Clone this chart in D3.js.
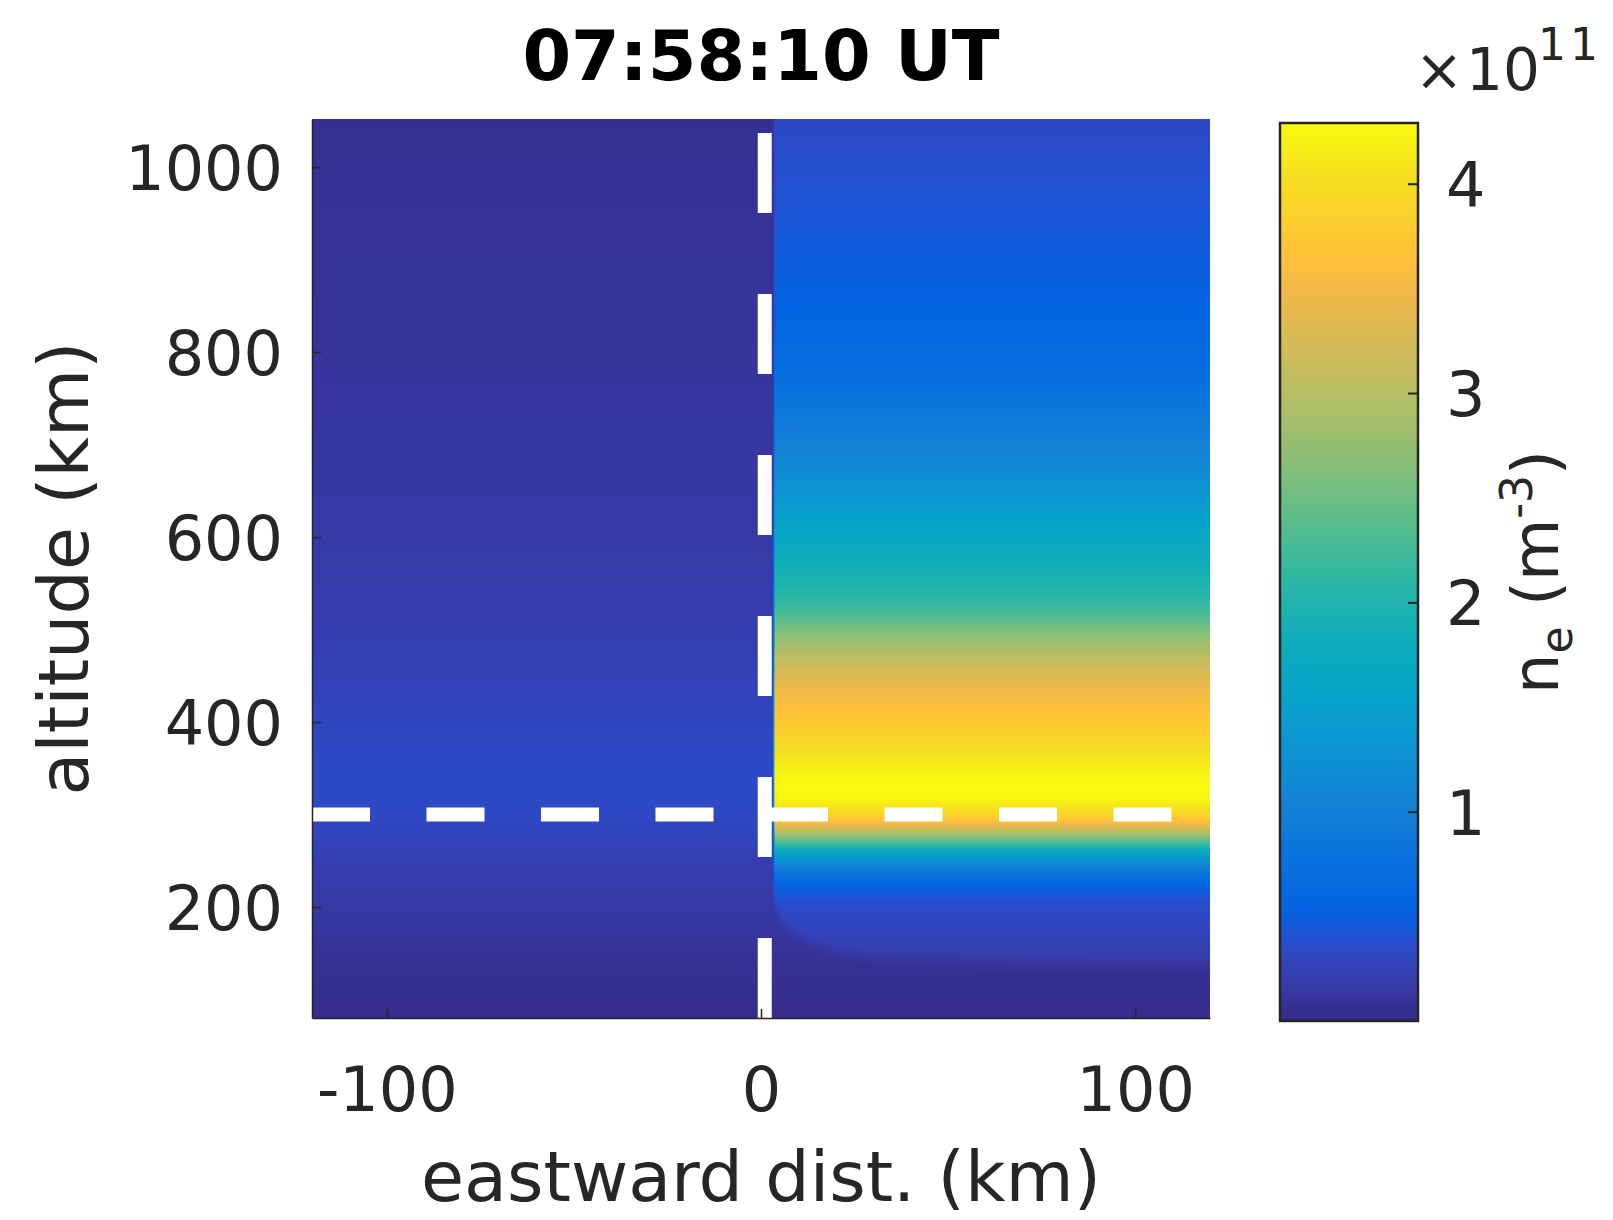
<!DOCTYPE html>
<html>
<head>
<meta charset="utf-8">
<script src="https://cdn.jsdelivr.net/npm/d3@7"></script>
<style>
  body { margin: 0; background: #fff; }
  svg { display: block; font-family: "DejaVu Sans", sans-serif; }
</style>
</head>
<body>
<svg id="chart"></svg>
<script>
// altitude grid of the density profiles (km)
const altitudes   = [80, 100, 120, 135, 150, 170, 190, 205, 220, 235, 250, 262, 275, 290, 300, 315, 330, 345, 365, 385, 410, 430, 450, 470, 490, 510, 530, 550, 575, 600, 640, 680, 720, 770, 820, 870, 920, 970, 1010, 1052];
// n_e west of the boundary (x1e11 m^-3)
const westDensity = [0.03, 0.04, 0.05, 0.07, 0.09, 0.12, 0.14, 0.16, 0.18, 0.20, 0.22, 0.25, 0.28, 0.30, 0.32, 0.33, 0.34, 0.34, 0.33, 0.31, 0.29, 0.27, 0.25, 0.23, 0.22, 0.21, 0.20, 0.19, 0.18, 0.17, 0.15, 0.14, 0.13, 0.12, 0.11, 0.10, 0.09, 0.08, 0.07, 0.06];
// n_e east of the boundary (x1e11 m^-3)
const eastDensity = [0.03, 0.06, 0.10, 0.14, 0.20, 0.27, 0.32, 0.37, 0.50, 0.80, 1.25, 1.80, 2.60, 3.50, 3.90, 4.20, 4.29, 4.22, 4.05, 3.88, 3.68, 3.52, 3.32, 3.05, 2.75, 2.40, 2.12, 1.97, 1.82, 1.66, 1.38, 1.12, 0.93, 0.74, 0.60, 0.52, 0.46, 0.41, 0.37, 0.33];

// eastward position of the density edge (km) and the rounded floor of the
// enhanced region next to it (km east of the edge -> altitude km)
const edgeDist    = 3.5;
const cornerDist  = [0, 2, 5, 10, 16, 24, 35, 120];
const cornerFloor = [200, 186, 173, 161, 152, 145, 139, 135];

// marker lines
const markerDist = 1;     // km
const markerAlt  = 300;   // km

// axis limits and ticks
const distLimits = [-120, 120];
const altLimits  = [80, 1052];
const neLimits   = [0, 4.29];
const distTicks  = [-100, 0, 100];
const altTicks   = [200, 400, 600, 800, 1000];
const neTicks    = [1, 2, 3, 4];

// parula colour map (positions 0..1)
const parulaPos = [0, 1, 2, 3, 4, 5, 6, 7, 8, 11, 15, 19, 23, 27, 31, 35, 39, 43, 47, 51, 53, 55, 59, 63].map(i => i / 63);
const parulaHex = ['#352a87', '#363093', '#3637a0', '#353dad', '#3243ba', '#2c4ac7', '#2053d4', '#0f5cdd', '#0363e1', '#0871de', '#1481d6', '#0c93d2', '#06a4ca', '#0faeb9', '#2eb7a4', '#59bd8c', '#87bf77', '#aebe67', '#d1bb59', '#f1b94a', '#fdbe3d', '#fec832', '#f5de21', '#f9fb0e'];

const width = 1613, height = 1220;
const plot = {left: 312, top: 119, width: 898, height: 899};
const cbar = {left: 1280, top: 123, width: 138, height: 898};
const ink = '#262626';
const fmt = d => String(d);   // plain "-100", "1000"

const svg = d3.select('#chart')
    .attr('width', width)
    .attr('height', height);

const x = d3.scaleLinear().domain(distLimits).range([plot.left, plot.left + plot.width]);
const y = d3.scaleLinear().domain(altLimits).range([plot.top + plot.height, plot.top]);

const color = d3.scaleLinear()
    .domain(parulaPos.map(p => neLimits[0] + p * (neLimits[1] - neLimits[0])))
    .range(parulaHex)
    .clamp(true);

const west = d3.scaleLinear().domain(altitudes).range(westDensity).clamp(true);
const east = d3.scaleLinear().domain(altitudes).range(eastDensity).clamp(true);
const floor = d3.scaleLinear().domain(cornerDist).range(cornerFloor).clamp(true);
const clamp01 = v => Math.max(0, Math.min(1, v));

// density image, one value per screen pixel
const canvas = document.createElement('canvas');
canvas.width = plot.width;
canvas.height = plot.height;
const ctx = canvas.getContext('2d');
const img = ctx.createImageData(plot.width, plot.height);

const colDist = d3.range(plot.width).map(i => x.invert(plot.left + i + 0.5));
for (let j = 0; j < plot.height; j++) {
    const alt = y.invert(plot.top + j + 0.5);
    const w0 = west(alt), e0 = east(alt);
    for (let i = 0; i < plot.width; i++) {
        const d = colDist[i];
        const wx = clamp01((d - edgeDist) / 0.6 + 0.5);
        const wz = clamp01((alt - floor(d - edgeDist)) / 16 + 0.5);
        const v = w0 + (e0 - w0) * wx * wz;
        const c = d3.rgb(color(v));
        const k = (j * plot.width + i) * 4;
        img.data[k] = c.r;
        img.data[k + 1] = c.g;
        img.data[k + 2] = c.b;
        img.data[k + 3] = 255;
    }
}
ctx.putImageData(img, 0, 0);

svg.append('image')
    .attr('x', plot.left)
    .attr('y', plot.top)
    .attr('width', plot.width)
    .attr('height', plot.height)
    .attr('preserveAspectRatio', 'none')
    .attr('href', canvas.toDataURL());

// dashed marker lines
const line = d3.line().x(d => x(d[0])).y(d => y(d[1]));

svg.append('path')
    .attr('d', line([[distLimits[0], markerAlt], [distLimits[1], markerAlt]]))
    .attr('stroke', '#fff')
    .attr('stroke-width', 14)
    .attr('stroke-dasharray', '58 56.5')
    .attr('fill', 'none');

svg.append('path')
    .attr('d', line([[markerDist, altLimits[0]], [markerDist, altLimits[1]]]))
    .attr('stroke', '#fff')
    .attr('stroke-width', 14)
    .attr('stroke-dasharray', '80 81')
    .attr('fill', 'none');

// axes (box off, ticks inward)
const xAxis = svg.append('g')
    .attr('transform', `translate(0, ${plot.top + plot.height})`)
    .call(d3.axisBottom(x).tickValues(distTicks).tickFormat(fmt).tickSize(-9).tickSizeOuter(0).tickPadding(49));

const yAxis = svg.append('g')
    .attr('transform', `translate(${plot.left}, 0)`)
    .call(d3.axisLeft(y).tickValues(altTicks).tickFormat(fmt).tickSize(-9).tickSizeOuter(0).tickPadding(29));

[xAxis, yAxis].forEach(g => {
    g.select('.domain').attr('stroke', ink).attr('stroke-width', 1.5);
    g.selectAll('.tick line').attr('stroke', ink).attr('stroke-width', 1.5);
    g.selectAll('.tick text')
        .attr('fill', ink)
        .style('font-size', '62px')
        .style('font-family', '"DejaVu Sans", sans-serif');
});
yAxis.selectAll('.tick text').attr('dy', '0.36em');

svg.append('text')
    .attr('x', x(0))
    .attr('y', 1201)
    .attr('text-anchor', 'middle')
    .attr('fill', ink)
    .style('font-size', '70px')
    .text('eastward dist. (km)');

svg.append('text')
    .attr('transform', `translate(88, ${y((altLimits[0] + altLimits[1]) / 2)}) rotate(-90)`)
    .attr('text-anchor', 'middle')
    .attr('fill', ink)
    .style('font-size', '70px')
    .text('altitude (km)');

svg.append('text')
    .attr('x', x(0))
    .attr('y', 80)
    .attr('text-anchor', 'middle')
    .attr('fill', '#000')
    .style('font-size', '70px')
    .style('font-weight', 'bold')
    .text('07:58:10 UT');

// colour bar
const cy = d3.scaleLinear().domain(neLimits).range([cbar.top + cbar.height, cbar.top]);

const grad = svg.append('defs').append('linearGradient')
    .attr('id', 'parula')
    .attr('x1', 0).attr('y1', 1).attr('x2', 0).attr('y2', 0);
grad.selectAll('stop')
    .data(parulaPos)
    .enter()
    .append('stop')
    .attr('offset', d => d)
    .attr('stop-color', (d, i) => parulaHex[i]);

svg.append('rect')
    .attr('x', cbar.left)
    .attr('y', cbar.top)
    .attr('width', cbar.width)
    .attr('height', cbar.height)
    .attr('fill', 'url(#parula)')
    .attr('stroke', ink)
    .attr('stroke-width', 2.5);

const cAxis = svg.append('g')
    .attr('transform', `translate(${cbar.left + cbar.width}, 0)`)
    .call(d3.axisRight(cy).tickValues(neTicks).tickFormat(fmt).tickSize(-10).tickSizeOuter(0).tickPadding(28));
cAxis.select('.domain').remove();
cAxis.selectAll('.tick line').attr('stroke', ink).attr('stroke-width', 2);
cAxis.selectAll('.tick text')
    .attr('fill', ink)
    .attr('dy', '0.36em')
    .style('font-size', '62px')
    .style('font-family', '"DejaVu Sans", sans-serif');

// x10^11 exponent
svg.append('text')
    .attr('x', 1439)
    .attr('y', 90)
    .attr('text-anchor', 'middle')
    .attr('fill', ink)
    .style('font-size', '58px')
    .text('\u00d7');
svg.append('text')
    .attr('x', 1466)
    .attr('y', 90)
    .attr('fill', ink)
    .style('font-size', '58px')
    .text('10');
svg.append('text')
    .attr('x', 1538)
    .attr('y', 60)
    .attr('fill', ink)
    .style('font-size', '44px')
    .style('letter-spacing', '4px')
    .text('11');

// n_e (m^-3) label
const cLabel = svg.append('text')
    .attr('transform', `translate(1558, ${cy((neLimits[0] + neLimits[1]) / 2)}) rotate(-90)`)
    .attr('text-anchor', 'middle')
    .attr('fill', ink)
    .style('font-size', '64px');
cLabel.append('tspan').text('n');
cLabel.append('tspan').attr('dy', 14).style('font-size', '44px').text('e');
cLabel.append('tspan').attr('dy', -14).text(' (m');
cLabel.append('tspan').attr('dy', -26).style('font-size', '44px').text('-3');
cLabel.append('tspan').attr('dy', 26).text(')');
</script>
</body>
</html>
